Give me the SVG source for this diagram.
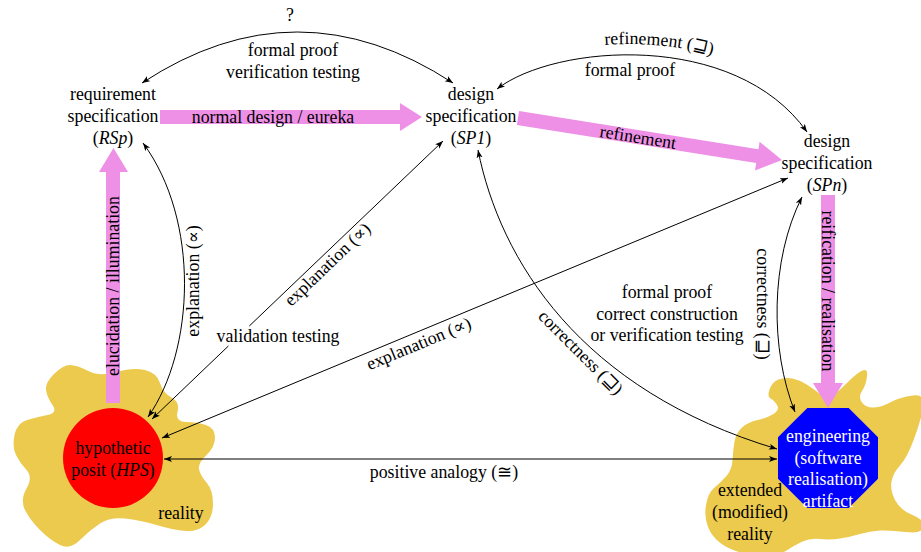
<svg xmlns="http://www.w3.org/2000/svg" width="921" height="552" viewBox="0 0 921 552" font-family="'Liberation Serif', 'DejaVu Serif', serif">
<style>
text{font-family:"Liberation Serif","DejaVu Serif",serif;font-size:17.8px;fill:#000}
.m{text-anchor:middle}
.w{fill:#fff}
.blob{fill:#ECCA4E}
.pink{fill:#EE90E6}
.ln{fill:none;stroke:#000;stroke-width:1;marker-start:url(#ah);marker-end:url(#ah)}
</style>
<defs>
<marker id="ah" markerUnits="userSpaceOnUse" markerWidth="10" markerHeight="8" refX="8" refY="3" orient="auto-start-reverse">
<path d="M0,0 L8,3 L0,6 L2,3 Z" fill="#000"/>
</marker>
<path id="refpath" d="M490,80 C550,33 742,18 818,124"/>
</defs>

<g id="reality">
<path class="blob" d="M46,390 Q45,383 54,374 Q63,365 70,365 Q77,365 88.5,371 Q100,377 116.5,372 Q133,367 145,370 Q157,373 160,383 Q163,393 171.5,397.5 Q180,402 177.5,412 Q175,422 186,422 Q197,422 206,425 Q215,428 215,437.5 Q215,447 206.5,455 Q198,463 199,469 Q200,475 206.5,482.5 Q213,490 213,503.5 Q213,517 205.5,524.5 Q198,532 185.5,531 Q173,530 156.5,525 Q140,520 125,518.5 Q110,517 100,523.5 Q90,530 80,540 Q70,550 60,545 Q50,540 40,530 Q30,520 25,510 Q20,500 26.5,488.5 Q33,477 26.5,470 Q20,463 16,455 Q12,447 14.5,435 Q17,423 27,420 Q37,417 47.5,415 Q58,413 52.5,405 Q47,397 46,390 Z"/>
<text class="m" x="181" y="519">reality</text>
</g>
<g id="extended-reality">
<path class="blob" d="M770.5,398.5 Q767,397 769.5,389.5 Q772,382 778.5,379.5 Q785,377 792.5,378.5 Q800,380 807.5,385 Q815,390 821.5,395 Q828,400 835,394 Q842,388 849.5,380.5 Q857,373 862.5,370.5 Q868,368 867,376.5 Q866,385 862,391 Q858,397 862,402.5 Q866,408 874,407.5 Q882,407 891,402 Q900,397 913,395.5 Q926,394 923.5,407 Q921,420 914,439 Q907,458 900,465.5 Q893,473 891.5,481.5 Q890,490 895,500 Q900,510 912.5,515 Q925,520 923.5,527 Q922,534 906,532 Q890,530 880,530.5 Q870,531 860,534 Q850,537 840,538.5 Q830,540 820,539 Q810,538 802.5,541.5 Q795,545 786.5,550.5 Q778,556 766.5,556 Q755,556 742.5,553 Q730,550 721,543.5 Q712,537 708,527 Q704,517 706,505 Q708,493 714,488 Q720,483 726,476.5 Q732,470 732.5,460 Q733,450 734.5,441.5 Q736,433 742,427.5 Q748,422 757.5,420 Q767,418 773.5,414 Q780,410 777,405 Q774,400 770.5,398.5 Z"/>
<text class="m" x="750" y="496">extended</text>
<text class="m" x="750" y="518">(modified)</text>
<text class="m" x="750" y="540">reality</text>
</g>

<g id="HPS">
<circle cx="113" cy="458" r="50" fill="#FF0000"/>
<text class="m" x="113" y="454">hypothetic</text>
<text class="m" x="113" y="476">posit (<tspan font-style="italic">HPS</tspan>)</text>
</g>

<g id="artifact">
<polygon points="807.3,408 848.7,408 878,437.3 878,478.7 848.7,508 807.3,508 778,478.7 778,437.3" fill="#0000FF"/>
<text class="m w" x="828" y="442">engineering</text>
<text class="m w" x="828" y="464">(software</text>
<text class="m w" x="828" y="485">realisation)</text>
<text class="m w" x="828" y="507">artifact</text>
</g>

<g id="RSp">
<text class="m" x="113" y="100">requirement</text>
<text class="m" x="113" y="122">specification</text>
<text class="m" x="113" y="144">(<tspan font-style="italic">RSp</tspan>)</text>
</g>
<g id="SP1">
<text class="m" x="471" y="100">design</text>
<text class="m" x="471" y="122">specification</text>
<text class="m" x="471" y="144">(<tspan font-style="italic">SP1</tspan>)</text>
</g>
<g id="SPn">
<text class="m" x="827" y="147">design</text>
<text class="m" x="827" y="169">specification</text>
<text class="m" x="827" y="191">(<tspan font-style="italic">SPn</tspan>)</text>
</g>

<g id="connectors">
<polygon class="pink" points="160,110 400,110 400,103 422,117 400,131 400,124 160,124"/>
<text class="m" x="273" y="123">normal design / eureka</text>
<polygon class="pink" points="106,403 106,172 99,172 113.5,148 128,172 120,172 120,403"/>
<text class="m" transform="translate(113,286) rotate(-90)" y="6">elucidation / illumination</text>
<polygon class="pink" points="519.1,111.1 758.4,149.2 759.6,141.8 782,160 755,170.4 756.2,163 516.9,124.9"/>
<text class="m" transform="translate(638,137) rotate(9.03)" y="6">refinement</text>
<polygon class="pink" points="821,195 835,195 835,383 843,383 828,408 813,383 821,383"/>
<text class="m" transform="translate(828,291) rotate(90)" y="6">reification / realisation</text>

<path class="ln" d="M142,83 Q297,-19 453,83"/>
<text class="m" x="290" y="21">?</text>
<text class="m" x="293" y="56">formal proof</text>
<text class="m" x="293" y="78">verification testing</text>

<path class="ln" d="M497,89 C555,44 735,30 807,132"/>
<text><textPath href="#refpath" startOffset="49%" text-anchor="middle">refinement (⊒)</textPath></text>
<text class="m" x="630" y="76">formal proof</text>

<path class="ln" d="M148,417 C195,350 200,220 143,143"/>
<text class="m" transform="translate(199,281) rotate(-90)">explanation (∝)</text>

<path class="ln" d="M443,141 L249.3,326 M228.4,346 L152,419"/>
<text class="m" x="278" y="342">validation testing</text>
<text class="m" transform="translate(331.5,268.6) rotate(-43.8)">explanation (∝)</text>

<path class="ln" d="M162,438 L788,178"/>
<text class="m" transform="translate(421,349) rotate(-22.55)">explanation (∝)</text>

<path class="ln" d="M478,150 C500,260 580,390 777,449"/>
<text class="m" transform="translate(576.5,356.5) rotate(45)">correctness (⊒)</text>
<text class="m" x="667" y="298">formal proof</text>
<text class="m" x="667" y="320">correct construction</text>
<text class="m" x="667" y="341">or verification testing</text>

<path class="ln" d="M802,197 C770,260 770,350 795,412"/>
<text class="m" transform="translate(757,304) rotate(90)">correctness (⊒)</text>

<path class="ln" d="M164,459 L777,459"/>
<text class="m" x="444" y="478">positive analogy (≅)</text>
</g>
</svg>
